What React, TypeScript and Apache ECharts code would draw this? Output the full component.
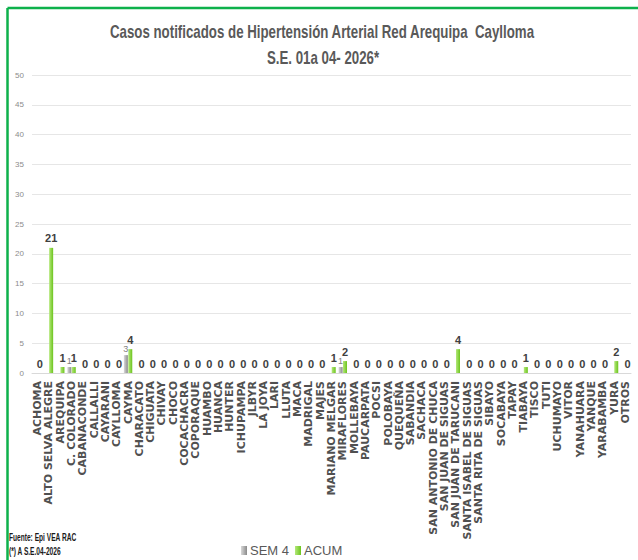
import React, { useEffect, useRef } from "react";
import * as echarts from "echarts";

const categories = [
  "ACHOMA", "ALTO SELVA ALEGRE", "AREQUIPA", "C. COLORADO", "CABANACONDE", "CALLALLI",
  "CAYARANI", "CAYLLOMA", "CAYMA", "CHARACATO", "CHIGUATA", "CHIVAY", "CHOCO",
  "COCACHACRA", "COPORAQUE", "HUAMBO", "HUANCA", "HUNTER", "ICHUPAMPA", "JLBYR",
  "LA JOYA", "LARI", "LLUTA", "MACA", "MADRIGAL", "MAJES", "MARIANO MELGAR",
  "MIRAFLORES", "MOLLEBAYA", "PAUCARPATA", "POCSI", "POLOBAYA", "QUEQUEÑA",
  "SABANDIA", "SACHACA", "SAN ANTONIO DE CHUCA", "SAN JUAN DE SIGUAS",
  "SAN JUAN DE TARUCANI", "SANTA ISABEL DE SIGUAS", "SANTA RITA DE SIGUAS",
  "SIBAYO", "SOCABAYA", "TAPAY", "TIABAYA", "TISCO", "TUTI", "UCHUMAYO", "VITOR",
  "YANAHUARA", "YANQUE", "YARABAMBA", "YURA", "OTROS",
];

const sem4 = [
  0, 0, 0, 1, 0, 0, 0, 0, 3, 0, 0, 0, 0,
  0, 0, 0, 0, 0, 0, 0, 0, 0, 0, 0, 0, 0, 0,
  1, 0, 0, 0, 0, 0, 0, 0, 0, 0, 0, 0, 0,
  0, 0, 0, 0, 0, 0, 0, 0, 0, 0, 0, 0, 0,
];

const acum = [
  0, 21, 1, 1, 0, 0, 0, 0, 4, 0, 0, 0, 0,
  0, 0, 0, 0, 0, 0, 0, 0, 0, 0, 0, 0, 0, 1,
  2, 0, 0, 0, 0, 0, 0, 0, 0, 0, 4, 0, 0,
  0, 0, 0, 1, 0, 0, 0, 0, 0, 0, 0, 2, 0,
];

const yTicks = { min: 0, max: 50, interval: 5 };

const titleText = "Casos notificados de Hipertensión Arterial Red Arequipa  Caylloma";
const subtitleText = "S.E. 01a 04- 2026*";
const footer1 = "Fuente: Epi VEA RAC";
const footer2 = "(*) A S.E.04-2026";

const SANS = '"Liberation Sans", Arial, sans-serif';

export default function App() {
  const ref = useRef<HTMLDivElement>(null);
  useEffect(() => {
    if (!ref.current) return;
    const chart = echarts.init(ref.current, null, { renderer: "svg" });
    const greyGrad = new echarts.graphic.LinearGradient(0, 0, 1, 0, [
      { offset: 0, color: "#d9d9d9" },
      { offset: 1, color: "#8a8a8a" },
    ]);
    const greenGrad = new echarts.graphic.LinearGradient(0, 0, 1, 0, [
      { offset: 0, color: "#b4e87a" },
      { offset: 1, color: "#6cc41e" },
    ]);
    chart.setOption({
      animation: false,
      backgroundColor: "#ffffff",
      legend: {
        left: 236,
        top: 539,
        itemWidth: 6,
        itemHeight: 9,
        itemGap: 6,
        icon: "rect",
        textStyle: { fontFamily: SANS, fontSize: 13, color: "#595959", padding: [0, 0, 0, -2] },
        data: ["SEM 4", "ACUM"],
      },
      grid: { left: 32, right: 7, top: 75, bottom: 187, containLabel: false },
      xAxis: {
        type: "category",
        data: categories,
        axisLine: { show: true, lineStyle: { color: "#d9d9d9", width: 1 } },
        axisTick: { show: false },
        axisLabel: {
          interval: 0,
          rotate: 90,
          margin: 8,
          fontFamily: '"DejaVu Sans", Verdana, sans-serif',
          fontWeight: "bold",
          fontSize: 11,
          color: "#505050",
        },
      },
      yAxis: {
        type: "value",
        min: yTicks.min,
        max: yTicks.max,
        interval: yTicks.interval,
        axisLine: { show: false },
        axisTick: { show: false },
        splitLine: { lineStyle: { color: "#e6e6e6", width: 1 } },
        axisLabel: { fontFamily: SANS, fontSize: 8, color: "#8c8c8c", margin: 8 },
      },
      series: [
        {
          name: "SEM 4",
          type: "bar",
          data: sem4,
          barWidth: 4,
          barGap: "10%",
          itemStyle: { color: greyGrad },
          label: {
            show: true,
            position: "top",
            distance: 2,
            fontFamily: SANS,
            fontSize: 9,
            color: "#7f7f7f",
            formatter: (p: any) => (p.value ? String(p.value) : ""),
          },
        },
        {
          name: "ACUM",
          type: "bar",
          data: acum,
          barWidth: 4,
          itemStyle: { color: greenGrad },
          label: {
            show: true,
            position: "top",
            distance: 4,
            fontFamily: SANS,
            fontWeight: "bold",
            fontSize: 11,
            color: "#404040",
          },
        },
      ],
      graphic: [
        {
          type: "line",
          shape: { x1: 7.5, y1: 8, x2: 638, y2: 8 },
          style: { stroke: "#0db14b", lineWidth: 2.5 },
        },
        {
          type: "line",
          shape: { x1: 7.5, y1: 8, x2: 7.5, y2: 560 },
          style: { stroke: "#0db14b", lineWidth: 2.5 },
        },
        {
          type: "text",
          x: 322,
          y: 31,
          scaleX: 0.7,
          style: {
            text: titleText,
            fontFamily: SANS,
            fontWeight: "bold",
            fontSize: 19,
            fill: "#595959",
            textAlign: "center",
            textVerticalAlign: "middle",
          },
        },
        {
          type: "text",
          x: 323,
          y: 57,
          scaleX: 0.7,
          style: {
            text: subtitleText,
            fontFamily: SANS,
            fontWeight: "bold",
            fontSize: 19,
            fill: "#595959",
            textAlign: "center",
            textVerticalAlign: "middle",
          },
        },
        {
          type: "text",
          x: 9,
          y: 537,
          scaleX: 0.6,
          style: {
            text: footer1,
            fontFamily: SANS,
            fontWeight: "bold",
            fontSize: 11,
            fill: "#1a1a1a",
            textVerticalAlign: "middle",
          },
        },
        {
          type: "text",
          x: 9,
          y: 551,
          scaleX: 0.6,
          style: {
            text: footer2,
            fontFamily: SANS,
            fontWeight: "bold",
            fontSize: 11,
            fill: "#1a1a1a",
            textVerticalAlign: "middle",
          },
        },
      ],
    });
    return () => chart.dispose();
  }, []);
  return (
    <div
      ref={ref}
      style={{ position: "fixed", left: 0, top: 0, width: 638, height: 560, background: "#fff" }}
    />
  );
}
